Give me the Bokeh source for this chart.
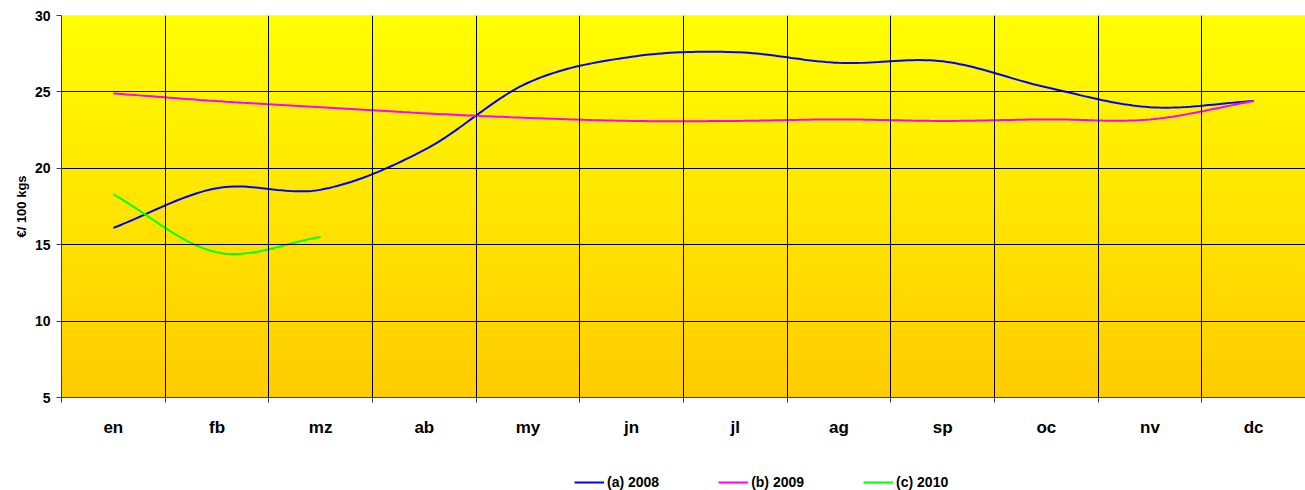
import numpy as np
from bokeh.plotting import figure
from bokeh.layouts import column
from bokeh.models import Range1d, FixedTicker, Legend, LegendItem
from bokeh.embed import file_html
from bokeh.resources import INLINE

# ---- data ----
months = ["en", "fb", "mz", "ab", "my", "jn", "jl", "ag", "sp", "oc", "nv", "dc"]
s2008 = [16.1, 18.7, 18.6, 21.2, 25.6, 27.3, 27.6, 26.9, 27.0, 25.3, 24.0, 24.4]
s2009 = [24.9, 24.4, 24.0, 23.6, 23.3, 23.1, 23.1, 23.2, 23.1, 23.2, 23.2, 24.4]
s2010 = [18.3, 14.5, 15.5]
series_names = ["(a) 2008", "(b) 2009", "(c) 2010"]
series_colors = ["#0000FF", "#FF00FF", "#00FF00"]
y_ticks = [5, 10, 15, 20, 25, 30]

FONT = "Liberation Sans"


def smooth(xs, ys, n=24):
    """Catmull-Rom style smoothing (like a spreadsheet 'smoothed line')."""
    xs = np.asarray(xs, float)
    ys = np.asarray(ys, float)
    k = len(xs)
    if k < 2:
        return xs, ys
    mx = np.zeros(k)
    my = np.zeros(k)
    for i in range(k):
        a = max(i - 1, 0)
        b = min(i + 1, k - 1)
        f = 0.5 if (0 < i < k - 1) else 1.0
        mx[i] = (xs[b] - xs[a]) * f
        my[i] = (ys[b] - ys[a]) * f
    outx, outy = [], []
    for i in range(k - 1):
        t = np.linspace(0, 1, n, endpoint=(i == k - 2))
        h00 = 2 * t**3 - 3 * t**2 + 1
        h10 = t**3 - 2 * t**2 + t
        h01 = -2 * t**3 + 3 * t**2
        h11 = t**3 - t**2
        outx.extend(h00 * xs[i] + h10 * mx[i] + h01 * xs[i + 1] + h11 * mx[i + 1])
        outy.extend(h00 * ys[i] + h10 * my[i] + h01 * ys[i + 1] + h11 * my[i + 1])
    return np.array(outx), np.array(outy)


ncat = len(months)
centers = [i + 0.5 for i in range(ncat)]
ymin, ymax = y_ticks[0], y_ticks[-1]

p = figure(
    width=1305, height=460,
    x_range=Range1d(0, ncat), y_range=Range1d(ymin, ymax),
    output_backend="svg", toolbar_location=None,
    min_border_left=61, min_border_right=0, min_border_top=15, min_border_bottom=63,
)
p.outline_line_color = None
p.background_fill_color = "#FFFF00"
p.border_fill_color = "white"

# gradient background (yellow -> golden) built from thin bands
nb = 120
edges = np.linspace(ymin, ymax, nb + 1)
c_top = np.array([255, 255, 0])
c_bot = np.array([255, 204, 0])
cols = []
for i in range(nb):
    f = (i + 0.5) / nb
    c = (c_bot * (1 - f) + c_top * f).astype(int)
    cols.append("#%02x%02x%02x" % tuple(c))
p.quad(left=0, right=ncat, bottom=edges[:-1], top=edges[1:] + (ymax - ymin) / nb * 0.3,
       fill_color=cols, line_color=None)

# grid
p.xgrid.ticker = FixedTicker(ticks=list(range(ncat + 1)))
p.ygrid.ticker = FixedTicker(ticks=y_ticks)
for g in (p.xgrid, p.ygrid):
    g.grid_line_color = "black"
    g.grid_line_width = 1
    g.level = "glyph"

# x axis: labels at centres, tick marks at category boundaries
xax = p.xaxis[0]
xax.ticker = FixedTicker(ticks=centers, minor_ticks=list(range(ncat + 1)))
xax.major_label_overrides = {c: m for c, m in zip(centers, months)}
xax.major_tick_line_color = None
xax.major_tick_in = 0
xax.major_tick_out = 0
xax.minor_tick_in = 0
xax.minor_tick_out = 5
xax.minor_tick_line_color = "#404040"
xax.axis_line_color = "#404040"
xax.major_label_standoff = 15
xax.major_label_text_font = FONT
xax.major_label_text_font_style = "bold"
xax.major_label_text_font_size = "17px"
xax.major_label_text_color = "black"

yax = p.yaxis[0]
yax.ticker = FixedTicker(ticks=y_ticks)
yax.minor_tick_line_color = None
yax.major_tick_in = 0
yax.major_tick_out = 5
yax.major_tick_line_color = "#404040"
yax.axis_line_color = "#404040"
yax.major_label_standoff = 6
yax.major_label_text_font = FONT
yax.major_label_text_font_style = "bold"
yax.major_label_text_font_size = "14px"
yax.major_label_text_color = "black"
yax.axis_label = "€/ 100 kgs"
yax.axis_label_text_font = FONT
yax.axis_label_text_font_style = "bold"
yax.axis_label_text_font_size = "13px"
yax.axis_label_text_color = "black"
yax.axis_label_standoff = 3

for name, vals, col in zip(series_names, [s2008, s2009, s2010], series_colors):
    sx, sy = smooth(centers[:len(vals)], vals)
    p.line(sx, sy, line_color=col, line_width=2)

# ---- legend strip under the chart ----
leg = figure(
    width=1305, height=30, x_range=Range1d(0, 1), y_range=Range1d(0, 1),
    output_backend="svg", toolbar_location=None,
    x_axis_type=None, y_axis_type=None,
    min_border_left=0, min_border_right=0, min_border_top=0, min_border_bottom=0,
)
leg.outline_line_color = None
leg.xgrid.visible = False
leg.ygrid.visible = False
items = []
for name, col in zip(series_names, series_colors):
    # key-only renderer: carries the series style for the legend swatch
    rr = leg.line(x=[np.nan], y=[np.nan], line_color=col, line_width=2)
    items.append(LegendItem(label=name, renderers=[rr]))

legend = Legend(items=items, orientation="horizontal", location=(513, 0))
legend.background_fill_alpha = 0
legend.border_line_color = None
legend.padding = 0
legend.margin = 0
legend.spacing = 59
legend.glyph_width = 30
legend.glyph_height = 14
legend.label_height = 14
legend.label_standoff = 3
legend.label_text_font = FONT
legend.label_text_font_style = "bold"
legend.label_text_font_size = "14px"
legend.label_text_color = "black"
leg.add_layout(legend, "center")

layout = column(p, leg, spacing=0)
open("out.html", "w").write(file_html(layout, INLINE))
